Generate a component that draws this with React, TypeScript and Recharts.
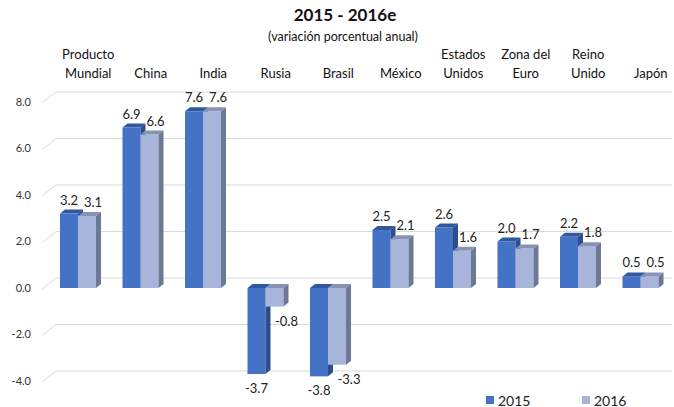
import React from 'react';
import { BarChart, Bar, XAxis, YAxis, CartesianGrid, LabelList } from 'recharts';

const categories = ['Producto\nMundial', 'China', 'India', 'Rusia', 'Brasil', 'México', 'Estados\nUnidos', 'Zona del\nEuro', 'Reino\nUnido', 'Japón'];
const values2015 = [3.2, 6.9, 7.6, -3.7, -3.8, 2.5, 2.6, 2.0, 2.2, 0.5];
const values2016 = [3.1, 6.6, 7.6, -0.8, -3.3, 2.1, 1.6, 1.7, 1.8, 0.5];
const yTicks = [-4, -2, 0, 2, 4, 6, 8];
const seriesNames = ['2015', '2016'];

const data = categories.map((name, i) => ({ name, v2015: values2015[i], v2016: values2016[i] }));

const FONT = 'Lato, "Open Sans", sans-serif';
const DX = 5;
const DY = 4;

const makeShape = (front: string, top: string, side: string) => (props: any) => {
  const { x, y, width, height } = props;
  if (x == null || y == null) return null;
  const t = Math.min(y, y + height);
  const h = Math.abs(height);
  const w = width;
  return (
    <g>
      <rect x={x} y={t} width={w} height={h} fill={front} />
      <polygon points={`${x},${t} ${x + DX},${t - DY} ${x + w + DX},${t - DY} ${x + w},${t}`} fill={top} />
      <polygon points={`${x + w},${t} ${x + w + DX},${t - DY} ${x + w + DX},${t + h - DY} ${x + w},${t + h}`} fill={side} />
    </g>
  );
};

const shape2015 = makeShape('#4472C4', '#2F58A0', '#2B4F8E');
const shape2016 = makeShape('#A8B5DB', '#8693B5', '#6C7894');

const makeLabel = (xShiftPos: number, xShiftNeg: number) => (props: any) => {
  const { x, y, width, height, value } = props;
  const t = Math.min(y, y + height);
  const b = Math.max(y, y + height);
  const neg = value < 0;
  const cx = x + width / 2 + (neg ? xShiftNeg : xShiftPos);
  const cy = neg ? b + 14 : t - 14;
  return (
    <text x={cx} y={cy} textAnchor="middle" dominantBaseline="central" fontSize={13} fill="#222" fontFamily={FONT}>
      {Number(value).toFixed(1)}
    </text>
  );
};

const CatTick = (props: any) => {
  const { x, payload } = props;
  const lines = String(payload.value).split('\n');
  const bottomY = 78;
  return (
    <g>
      {lines.map((ln, i) => (
        <text key={i} x={x + 10} y={bottomY - (lines.length - 1 - i) * 19} textAnchor="middle" fontSize={13} fill="#111" fontFamily={FONT}>
          {ln}
        </text>
      ))}
    </g>
  );
};

const GridLine = (props: any) => {
  const { x1, y1, x2 } = props;
  return (
    <path
      key={`g-${y1}`}
      d={`M${x1 - 5},${y1 + 1} L${x1 + 9},${y1 - 10} L${x2},${y1 - 10}`}
      stroke="#D9D9D9"
      strokeWidth={1}
      fill="none"
    />
  );
};

const legendColors = ['#4472C4', '#A8B5DB'];
const legendX = [486, 582];

export default function App() {
  return (
    <div style={{ position: 'fixed', left: 0, top: 0, width: 674, height: 407, background: '#fff' }}>
      <div style={{ position: 'absolute', left: 8, width: 674, top: 4, textAlign: 'center', fontFamily: FONT, fontWeight: 700, fontSize: 17, color: '#111' }}>
        2015 - 2016e
      </div>
      <div style={{ position: 'absolute', left: 6, width: 674, top: 29, textAlign: 'center', fontFamily: FONT, fontSize: 12.5, color: '#111' }}>
        (variación porcentual anual)
      </div>
      <div style={{ position: 'absolute', left: 0, top: 0 }}>
        <BarChart width={674} height={407} data={data} margin={{ top: 42, right: 2, bottom: 26, left: 0 }} barSize={18} barGap={0}>
          <CartesianGrid vertical={false} horizontal={GridLine as any} />
          <XAxis dataKey="name" orientation="top" axisLine={false} tickLine={false} height={60} interval={0} tick={<CatTick />} />
          <YAxis
            domain={[-4, 8]}
            ticks={yTicks}
            width={47}
            axisLine={false}
            tickLine={false}
            tickSize={0}
            tickMargin={16}
            tickFormatter={(v: number) => v.toFixed(1)}
            tick={{ fontSize: 11, fill: '#333', fontFamily: FONT }}
          />
          <Bar dataKey="v2015" name={seriesNames[0]} fill="#4472C4" shape={shape2015} isAnimationActive={false}>
            <LabelList dataKey="v2015" content={makeLabel(0, 0)} />
          </Bar>
          <Bar dataKey="v2016" name={seriesNames[1]} fill="#A8B5DB" shape={shape2016} isAnimationActive={false}>
            <LabelList dataKey="v2016" content={makeLabel(6, 12)} />
          </Bar>
        </BarChart>
      </div>
      <svg width={674} height={407} style={{ position: 'absolute', left: 0, top: 0, pointerEvents: 'none' }}>
        {seriesNames.map((s, i) => (
          <g key={s}>
            <rect x={legendX[i]} y={396} width={8} height={8} fill={legendColors[i]} />
            <text x={legendX[i] + 12} y={400} dominantBaseline="central" fontSize={14} fill="#222" fontFamily={FONT}>
              {s}
            </text>
          </g>
        ))}
      </svg>
    </div>
  );
}
